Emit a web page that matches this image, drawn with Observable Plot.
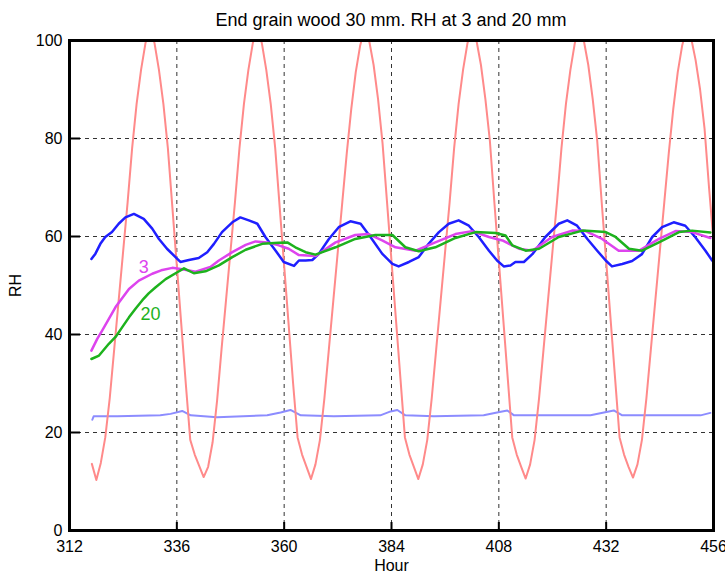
<!DOCTYPE html>
<html><head><meta charset="utf-8">
<script src="https://cdn.jsdelivr.net/npm/d3@7"></script>
<script src="https://cdn.jsdelivr.net/npm/@observablehq/plot@0.6"></script>
<style>
body{margin:0;background:#fff;font-family:"Liberation Sans",Arial,sans-serif;}
#title{box-sizing:border-box;width:725px;height:32px;padding:10px 12px 0 69px;text-align:center;font-size:18px;line-height:20px;color:#000;white-space:nowrap;}
</style></head><body>
<div id="title">End grain wood 30 mm. RH at 3 and 20 mm</div>
<div id="chart"></div>
<script>
const xTicks = [312, 336, 360, 384, 408, 432, 456];
const yTicks = [0, 20, 40, 60, 80, 100];

// Outer climate (red), hourly from hour 317
const redStart = 317;
const redValues = [13.6,
  10.3, 13.8, 19, 27, 37, 47, 57, 67, 78, 87, 94, 99.5, 102.5, 99.5, 94, 87, 78, 66, 54, 42, 30, 18.5, 15.5, 13.2,
  10.9, 13, 18, 26.5, 37, 47, 57, 67, 78, 87, 94, 99.5, 102.5, 99.5, 94, 87, 78, 66, 54, 42, 30, 19, 15.5, 13,
  10.5, 13.5, 18.5, 27, 37, 47, 57, 67, 77, 86, 93.5, 99, 102.5, 100, 95, 88, 79, 67, 55, 43, 31, 19, 15.5, 13,
  10.5, 13.5, 18.5, 27, 37, 47, 57, 67, 78, 87, 94, 99.5, 102.5, 100, 95, 88, 79.5, 67, 55, 43, 31, 19, 15.5, 13,
  10.6, 13.5, 18.5, 27, 37, 47, 57, 67, 78, 87, 94, 99.5, 102.5, 100, 95, 88, 79.5, 67, 55, 43, 31, 19, 15.5, 13,
  10.8, 13.5, 18.5, 27, 37, 47, 57, 67, 77, 86, 93.5, 99, 102.5, 100.5, 96, 90, 82, 70, 59];

// Blue (room / surface)
const blueHours = [316.9, 317.8, 318.9, 320.0, 321.5, 323.0, 324.5, 326.4, 328.6, 330.5,
  332.0, 333.8, 335.7, 336.8, 338.7, 340.9, 342.8, 344.3, 346.1, 348.4,
  350.2, 352.1, 354.0, 355.8, 358.1, 359.9, 362.2, 363.3, 364.8, 366.3,
  367.7, 370.0, 372.2, 374.8, 377.1, 379.3, 381.9, 384.2, 385.6, 387.9,
  390.1, 392.3, 394.6, 396.8, 399.0, 401.3, 403.5, 405.8, 407.6, 409.1,
  410.6, 411.7, 413.6, 415.5, 418.4, 421.4, 423.3, 425.5, 427.8, 430.0,
  431.9, 433.3, 435.6, 437.8, 440.0, 442.3, 444.5, 447.1, 449.7, 451.9,
  454.2, 455.7];
const blueValues = [55.4, 56.5, 58.5, 59.9, 60.9, 62.6, 63.9, 64.6, 63.6, 61.6,
  59.5, 57.5, 55.8, 54.8, 55.2, 55.6, 56.8, 58.5, 60.9, 62.9,
  63.9, 63.3, 62.6, 59.9, 57.1, 54.8, 54.0, 55.1, 55.1, 55.2,
  56.4, 59.5, 61.9, 63.1, 62.6, 59.9, 56.5, 54.4, 53.9, 54.8,
  55.8, 58.5, 60.9, 62.6, 63.3, 62.2, 59.9, 57.1, 55.1, 53.9,
  54.1, 54.8, 54.8, 56.4, 59.9, 62.6, 63.3, 62.2, 59.5, 57.1,
  55.1, 53.9, 54.4, 55.0, 56.4, 59.9, 61.9, 62.9, 62.2, 59.9,
  57.1, 55.1];

// RH at 3 mm (magenta)
const mag3Hours = [316.9, 318.2, 319.3, 322.3, 325.3, 327.5, 330.5, 332.5, 335.0, 337.2,
  340.2, 343.5, 345.4, 348.4, 351.4, 353.6, 356.2, 358.8, 361.0, 363.3,
  367.0, 371.5, 375.9, 378.9, 381.9, 384.9, 389.4, 393.8, 398.3, 402.0,
  405.8, 408.8, 412.5, 415.5, 419.9, 424.4, 427.4, 431.1, 434.8, 439.3,
  443.8, 447.5, 451.2, 455.3];
const mag3Values = [36.7, 39.1, 40.8, 45.6, 49.3, 51.0, 52.4, 53.1, 53.6, 53.3,
  52.8, 53.8, 55.1, 56.8, 58.3, 59.0, 58.8, 58.2, 57.5, 56.2,
  56.0, 58.8, 60.3, 60.5, 59.2, 57.8, 57.1, 58.8, 60.5, 61.1,
  59.9, 59.2, 57.5, 57.1, 59.9, 61.2, 61.1, 59.5, 57.1, 57.1,
  59.5, 61.1, 60.9, 59.7];

// RH at 20 mm (green)
const green20Hours = [316.9, 318.6, 320.8, 322.3, 323.8, 325.3, 326.8, 328.3, 329.7, 331.2,
  333.5, 336.1, 337.6, 339.8, 342.4, 345.4, 348.4, 351.4, 355.1, 358.8,
  360.7, 362.5, 364.8, 367.0, 371.5, 375.9, 380.4, 384.2, 387.1, 390.1,
  393.8, 398.3, 402.8, 407.3, 409.5, 411.0, 414.0, 417.0, 421.4, 426.7,
  431.9, 434.1, 437.1, 440.0, 443.8, 448.3, 451.2, 455.3];
const green20Values = [35.0, 35.7, 38.1, 39.5, 41.5, 43.5, 45.3, 47.0, 48.4, 49.6,
  51.3, 52.7, 53.5, 52.5, 52.9, 54.1, 55.8, 57.3, 58.5, 58.7,
  58.8, 57.8, 56.8, 56.3, 57.8, 59.5, 60.3, 60.3, 57.8, 57.0,
  57.8, 59.7, 60.9, 60.7, 60.2, 58.2, 57.1, 57.5, 59.9, 61.2,
  60.9, 59.9, 57.5, 57.1, 58.8, 60.9, 61.2, 60.8];

// Light blue (low RH)
const lightHours = [317.1, 317.4, 322.7, 332.3, 334.6, 337.2, 339.1, 345.0, 356.2, 359.2,
  361.4, 363.7, 371.1, 381.5, 383.8, 385.3, 387.1, 393.5, 404.6, 407.6,
  409.9, 411.4, 428.5, 431.5, 433.7, 435.6, 453.1, 455.3];
const lightValues = [22.6, 23.3, 23.3, 23.5, 23.8, 24.4, 23.5, 23.1, 23.5, 24.1,
  24.6, 23.5, 23.3, 23.5, 24.3, 24.6, 23.5, 23.3, 23.5, 24.1,
  24.5, 23.5, 23.5, 24.1, 24.5, 23.5, 23.5, 24.0];

const seriesLabels = ["3", "20"];
const seriesLabelHours = [328.6, 330.1];
const seriesLabelValues = [53.7, 44.2];

const toRows = (hs, vs) => hs.map((h, i) => ({h, v: vs[i]}));
const red = redValues.map((v, i) => ({h: redStart + i, v}));
const blue = toRows(blueHours, blueValues);
const mag = toRows(mag3Hours, mag3Values);
const green = toRows(green20Hours, green20Values);
const light = toRows(lightHours, lightValues);

const font = '"Liberation Sans", Arial, sans-serif';
const chart = Plot.plot({
  width: 725, height: 541,
  marginTop: 8, marginBottom: 43, marginLeft: 69, marginRight: 12,
  style: {fontFamily: font, fontSize: "16px", color: "#000", background: "#fff", overflow: "visible"},
  x: {domain: [312, 456]},
  y: {domain: [0, 100]},
  marks: [
    Plot.gridX(xTicks.slice(1, -1), {stroke: "#333", strokeOpacity: 1, strokeDasharray: "4,4"}),
    Plot.gridY(yTicks.slice(1, -1), {stroke: "#333", strokeOpacity: 1, strokeDasharray: "4,4"}),
    Plot.line(light, {x: "h", y: "v", stroke: "#8c8cff", strokeWidth: 2}),
    Plot.line(red, {x: "h", y: "v", stroke: "#ff8a8a", strokeWidth: 2, clip: true}),
    Plot.line(blue, {x: "h", y: "v", stroke: "#1f1fff", strokeWidth: 2.5}),
    Plot.line(mag, {x: "h", y: "v", stroke: "#dd44ee", strokeWidth: 2.5}),
    Plot.line(green, {x: "h", y: "v", stroke: "#1db21d", strokeWidth: 2.5}),
    Plot.text([seriesLabels[0]], {x: () => seriesLabelHours[0], y: () => seriesLabelValues[0], text: d => d, fill: "#dd44ee", fontSize: 18}),
    Plot.text([seriesLabels[1]], {x: () => seriesLabelHours[1], y: () => seriesLabelValues[1], text: d => d, fill: "#1db21d", fontSize: 18}),
    Plot.frame({stroke: "#000", strokeWidth: 3}),
    Plot.axisX(xTicks, {tickSize: -8, tickPadding: 18, strokeWidth: 2, label: "Hour", labelAnchor: "center", labelOffset: 40, labelArrow: "none"}),
    Plot.axisY(yTicks, {tickSize: -11, tickPadding: 18, strokeWidth: 2, label: "RH", labelAnchor: "center", labelOffset: 60, labelArrow: "none"})
  ]
});
document.getElementById("chart").appendChild(chart);
</script></body></html>
